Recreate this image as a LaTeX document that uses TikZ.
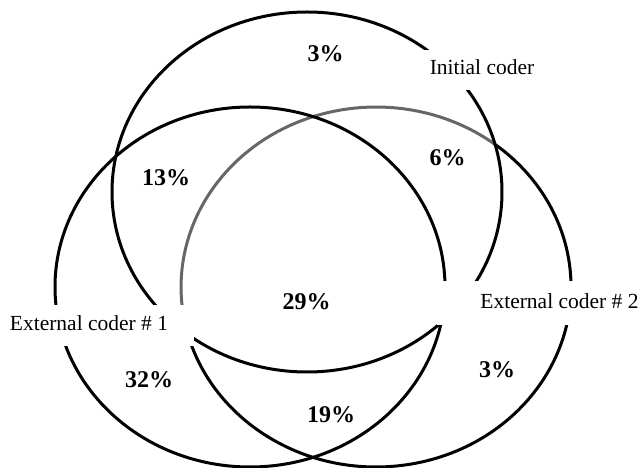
\documentclass[tikz,border=0pt]{standalone}
\usepackage{fontspec}
\setmainfont{Liberation Serif}
\begin{document}
\begin{tikzpicture}[x=1pt,y=1pt,
  ring/.style={line width=3pt, draw=black},
  greyring/.style={line width=3pt, draw=black!60},
  mask/.style={fill=white},
  lab/.style={font=\fontsize{21.5}{24}\selectfont, inner sep=0pt},
  pct/.style={font=\fontsize{24}{27}\selectfont\bfseries, inner sep=0pt}]
\useasboundingbox (0,0) rectangle (641,468);
% right set (External coder # 2): grey upper-left part, black remainder
\draw[greyring] (496.1,322.8) arc[start angle=52, end angle=186, x radius=195pt, y radius=180pt];
\draw[ring] (182.1,162.2) arc[start angle=186, end angle=412, x radius=195pt, y radius=180pt];
% top set (Initial coder)
\draw[ring] (307,276) ellipse [x radius=195pt, y radius=180pt];
% left set (External coder # 1)
\draw[ring] (250,181) ellipse [x radius=195pt, y radius=180pt];
% gaps behind the labels
\fill[mask] (424,378) rectangle (545,418);
\fill[mask] (-1,122) rectangle (194,163);
\fill[mask] (437,143) rectangle (642,187);
% set labels
\node[lab] (ic) at (482,400.5) {Initial coder};
\node[lab] (e1) at (89,144.5) {External coder \# 1};
\node[lab] (e2) at (559.5,167) {External coder \# 2};
% percentages
\node[pct] (p1) at (325.5,414.5) {3\%};
\node[pct] (p2) at (166,290.5) {13\%};
\node[pct] (p3) at (447.5,310.5) {6\%};
\node[pct] (p4) at (306.5,166.5) {29\%};
\node[pct] (p5) at (149,88.5) {32\%};
\node[pct] (p6) at (331,53.5) {19\%};
\node[pct] (p7) at (497,98.5) {3\%};
\end{tikzpicture}
\end{document}
